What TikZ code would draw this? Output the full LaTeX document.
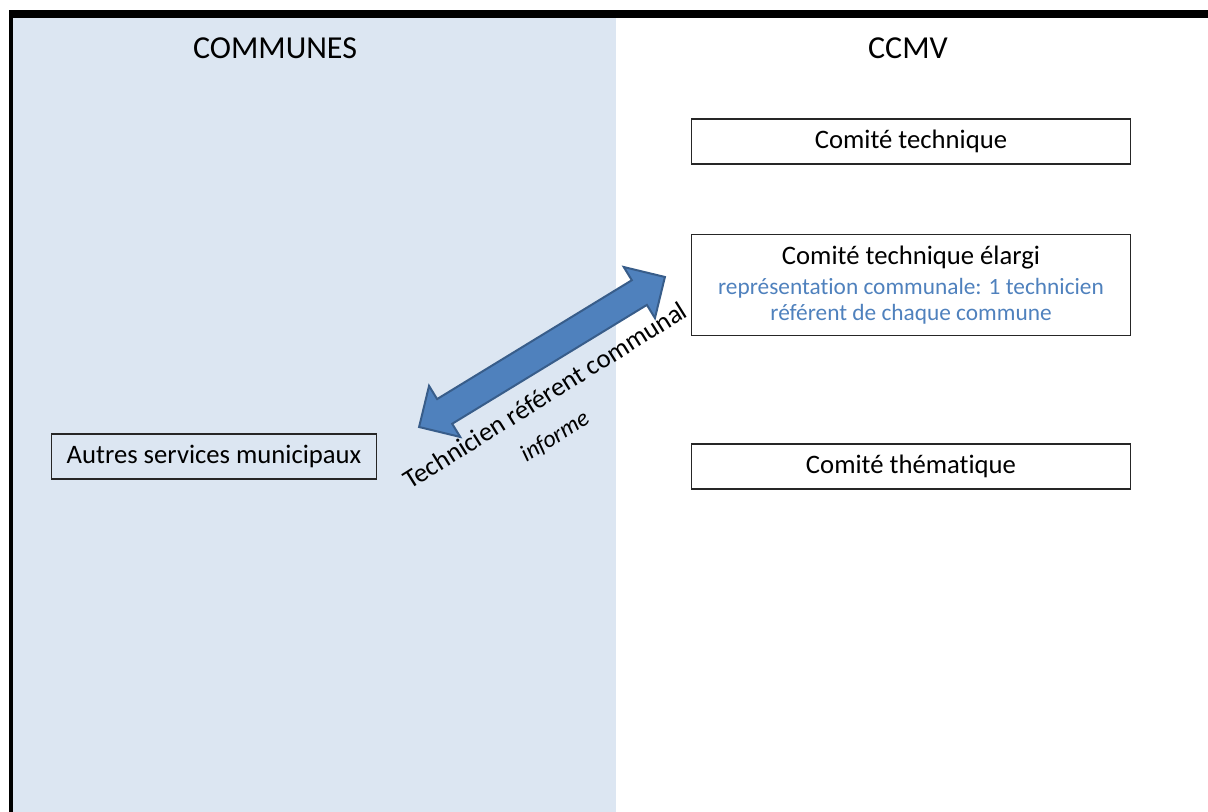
\documentclass[tikz,border=0pt]{standalone}
\usepackage{fontspec}
\setmainfont{Carlito}[Ligatures=NoCommon]
\usepackage{xcolor}
\usetikzlibrary{shapes.arrows,positioning}
\definecolor{panel}{RGB}{220,230,242}
\definecolor{accent}{RGB}{79,129,189}
\definecolor{accentdark}{RGB}{56,93,138}
\newcommand{\bluetxt}[1]{{\fontsize{17.5}{19.5}\selectfont\color{accent}#1}}
\tikzstyle{int}=[draw=black!85, line width=0.9pt, minimum width=329pt, minimum height=33.75pt, inner sep=0pt, align=center, font=\fontsize{20}{21}\selectfont]
\tikzstyle{hdr}=[font=\fontsize{24}{28}\selectfont]
\tikzstyle{arr}=[double arrow, fill=accent, draw=accentdark, line width=1.5pt, inner xsep=0pt, inner ysep=10.1pt, minimum height=216pt, double arrow head extend=11.6pt]

\begin{document}
\begin{tikzpicture}[x=0.75pt,y=-0.75pt,node distance=107.6pt]
        \useasboundingbox (0,0) rectangle (1208,812);
        \fill[panel] (13,18) rectangle (616,812);
        \fill[black] (9,10) rectangle (1208,18);
        \fill[black] (9,10) rectangle (13,812);

        \node [hdr] (communes) at (275,48) {COMMUNES};
        \node [hdr] (ccmv) at (908,48) {CCMV};

        \node [int] (ct) at (911,141.5) {Comité technique};
        \node [int, minimum height=75.75pt] (cte) [below of=ct] {Comité technique élargi\\[1.5pt]\bluetxt{représentation communale: 1 technicien}\\[-1.5pt]\bluetxt{référent de chaque commune}};
        \node [int] (cth) [below of=cte, node distance=136.1pt] {Comité thématique};
        \node [int, minimum width=243.75pt] (asm) at (214,456.5) {Autres services municipaux};

        \node [arr, rotate=31.4] (lien) at (542,352) {};
        \node [rotate=32, font=\fontsize{20}{24}\selectfont] (tech) at (545,395) {Technicien référent communal};
        \node [rotate=32, font=\fontsize{18}{22}\selectfont\itshape] (inf) at (555,437) {informe};
\end{tikzpicture}
\end{document}
